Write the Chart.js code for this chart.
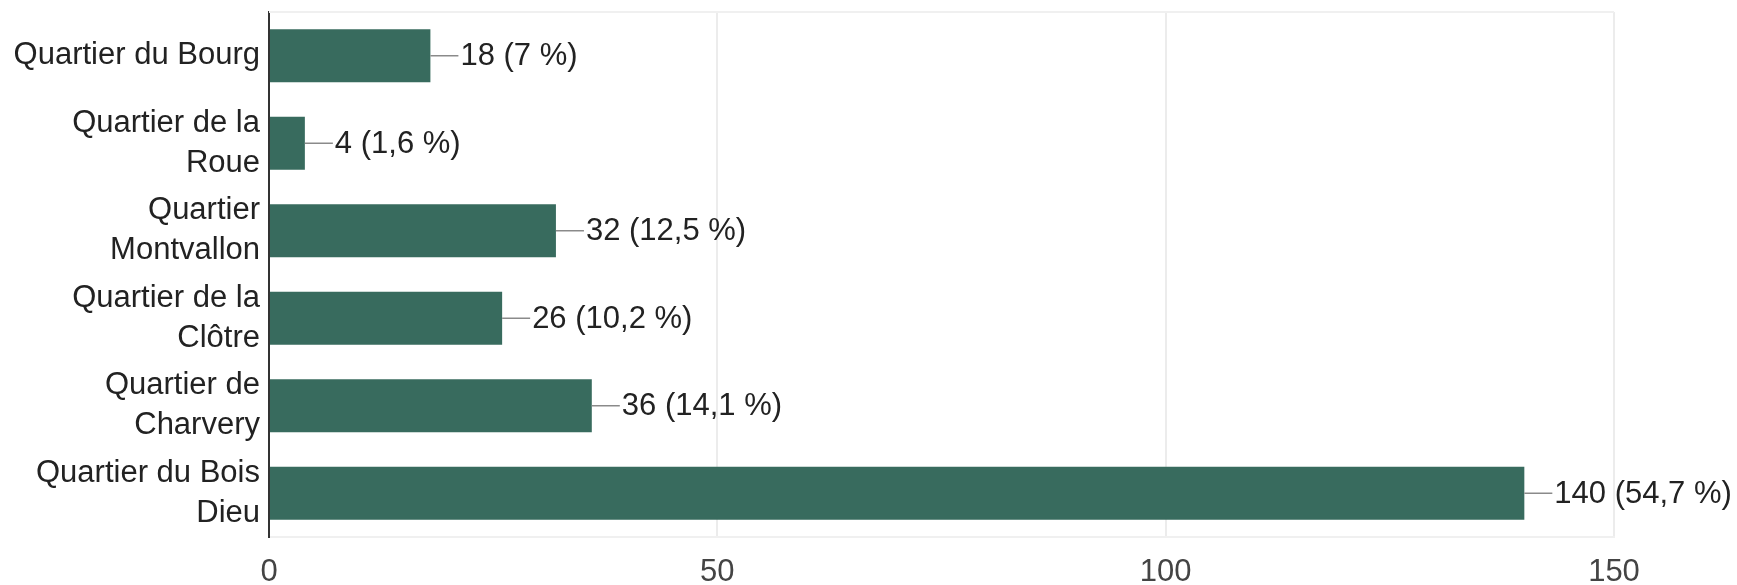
<!DOCTYPE html>
<html>
<head>
<meta charset="utf-8">
<style>
  html, body { margin: 0; padding: 0; background: #fff; }
  #wrap { width: 1737px; height: 585px; }
</style>
<script src="https://cdn.jsdelivr.net/npm/chart.js@4/dist/chart.umd.min.js"></script>
</head>
<body>
<div id="wrap"><canvas id="chart" width="1737" height="585"></canvas></div>
<script>
const categories = [
  ["Quartier du Bourg"],
  ["Quartier de la", "Roue"],
  ["Quartier", "Montvallon"],
  ["Quartier de la", "Clôtre"],
  ["Quartier de", "Charvery"],
  ["Quartier du Bois", "Dieu"],
];
const counts = [18, 4, 32, 26, 36, 140];
const percents = ["7", "1,6", "12,5", "10,2", "14,1", "54,7"];
const xTicks = [0, 50, 100, 150];

const barColor = "#386b5e";
const textColor = "#222222";
const fontFamily = "'Liberation Sans', Arial, sans-serif";

// value labels with a short leader line, drawn after the bars
const valueLabels = {
  id: "valueLabels",
  afterDatasetsDraw(chart) {
    const ctx = chart.ctx;
    const meta = chart.getDatasetMeta(0);
    ctx.save();
    ctx.font = "31px " + fontFamily;
    ctx.textBaseline = "middle";
    ctx.textAlign = "left";
    meta.data.forEach((bar, i) => {
      ctx.strokeStyle = "#8a8a8a";
      ctx.lineWidth = 1.5;
      ctx.beginPath();
      ctx.moveTo(bar.x, bar.y);
      ctx.lineTo(bar.x + 28, bar.y);
      ctx.stroke();
      ctx.fillStyle = textColor;
      ctx.fillText(`${counts[i]} (${percents[i]} %)`, bar.x + 30, bar.y + 1);
    });
    ctx.restore();
  },
};

// faint frame line along the top of the plot
const topFrame = {
  id: "topFrame",
  beforeDatasetsDraw(chart) {
    const { ctx, chartArea } = chart;
    ctx.save();
    ctx.strokeStyle = "#f0f0f0";
    ctx.lineWidth = 2;
    ctx.beginPath();
    ctx.moveTo(chartArea.left, chartArea.top);
    ctx.lineTo(chartArea.right, chartArea.top);
    ctx.stroke();
    ctx.restore();
  },
};

new Chart(document.getElementById("chart").getContext("2d"), {
  type: "bar",
  data: {
    labels: categories,
    datasets: [
      {
        data: counts,
        backgroundColor: barColor,
        categoryPercentage: 1,
        barPercentage: 0.605,
      },
    ],
  },
  options: {
    indexAxis: "y",
    responsive: false,
    animation: false,
    devicePixelRatio: 1,
    layout: { padding: { top: 12, right: 123, left: 0, bottom: 0 } },
    plugins: { legend: { display: false }, tooltip: { enabled: false } },
    scales: {
      x: {
        min: 0,
        max: 150,
        afterFit: (scale) => { scale.height = 48; },
        afterBuildTicks: (scale) => { scale.ticks = xTicks.map((v) => ({ value: v })); },
        grid: { color: "#ececec", lineWidth: 2, drawTicks: false },
        border: { display: true, color: "#f0f0f0", width: 2 },
        ticks: {
          padding: 17,
          color: "#444444",
          font: { family: fontFamily, size: 31 },
        },
      },
      y: {
        afterFit: (scale) => {
          scale.width = 269;
          scale.paddingTop = 0;
          scale.paddingBottom = 0;
        },
        grid: { display: false, drawTicks: false },
        border: { display: true, color: "#333333", width: 2 },
        ticks: {
          autoSkip: false,
          padding: 9,
          color: textColor,
          font: { family: fontFamily, size: 31, lineHeight: 1.3 },
        },
      },
    },
  },
  plugins: [topFrame, valueLabels],
});
</script>
</body>
</html>
